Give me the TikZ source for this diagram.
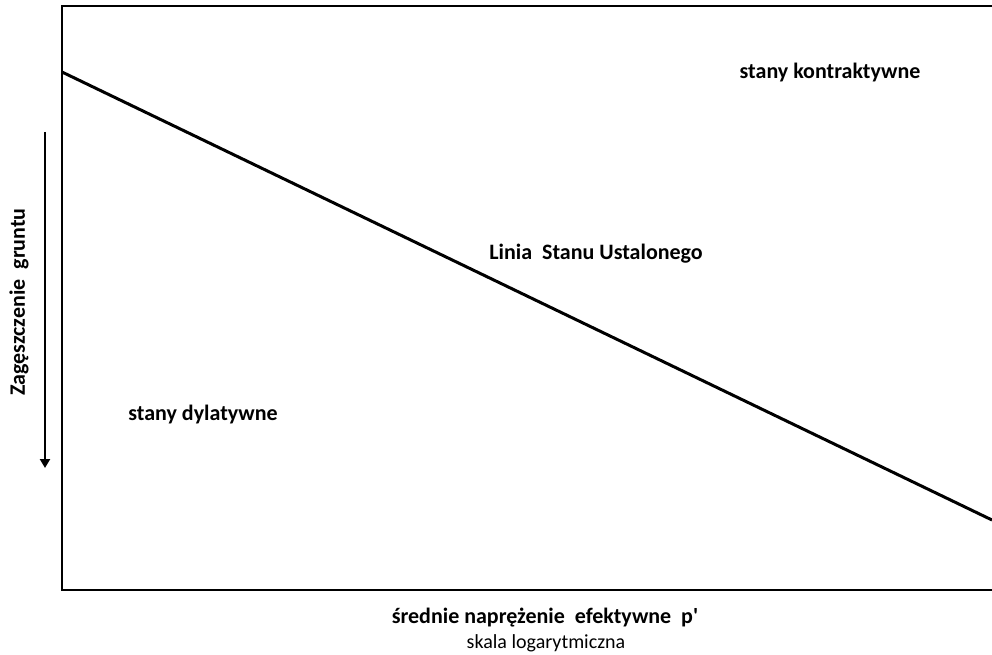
\documentclass[tikz,border=0pt]{standalone}
\usepackage{fontspec}
\setmainfont{Carlito}[Ligatures=TeXOff]
\usetikzlibrary{arrows.meta}
\begin{document}
\begin{tikzpicture}[x=1pt,y=-1pt,
  lbl/.style={font=\fontsize{22}{26}\selectfont\bfseries, inner sep=0pt},
  sub/.style={font=\fontsize{20}{24}\selectfont, inner sep=0pt}]
\useasboundingbox (0,0) rectangle (992,655);
\coordinate (tr) at (995,6);
\coordinate (tl) at (62,6);
\coordinate (bl) at (62,590);
\coordinate (br) at (995,590);
\draw[line width=2pt] (tr) -- (tl) -- (bl) -- (br);
\coordinate (ls) at (62,72);
\coordinate (le) at (992,520);
\draw[line width=3pt] (ls) -- (le);
\coordinate (as) at (45,132);
\coordinate (ae) at (45,468);
\draw[line width=2.8pt,-{Triangle[length=9pt,width=10pt]}] (as) -- (ae);
\node[lbl] (k) at (830,73) {stany kontraktywne};
\node[lbl] (l) at (596,254) {Linia\ \ Stanu Ustalonego};
\node[lbl] (d) at (203,415) {stany dylatywne};
\node[lbl] (x) at (545,618) {średnie naprężenie\ \ efektywne\ \ p'};
\node[sub] (s) at (546,643) {skala logarytmiczna};
\node[lbl,rotate=90] (y) at (19,302) {Zagęszczenie\ \ gruntu};
\end{tikzpicture}
\end{document}
